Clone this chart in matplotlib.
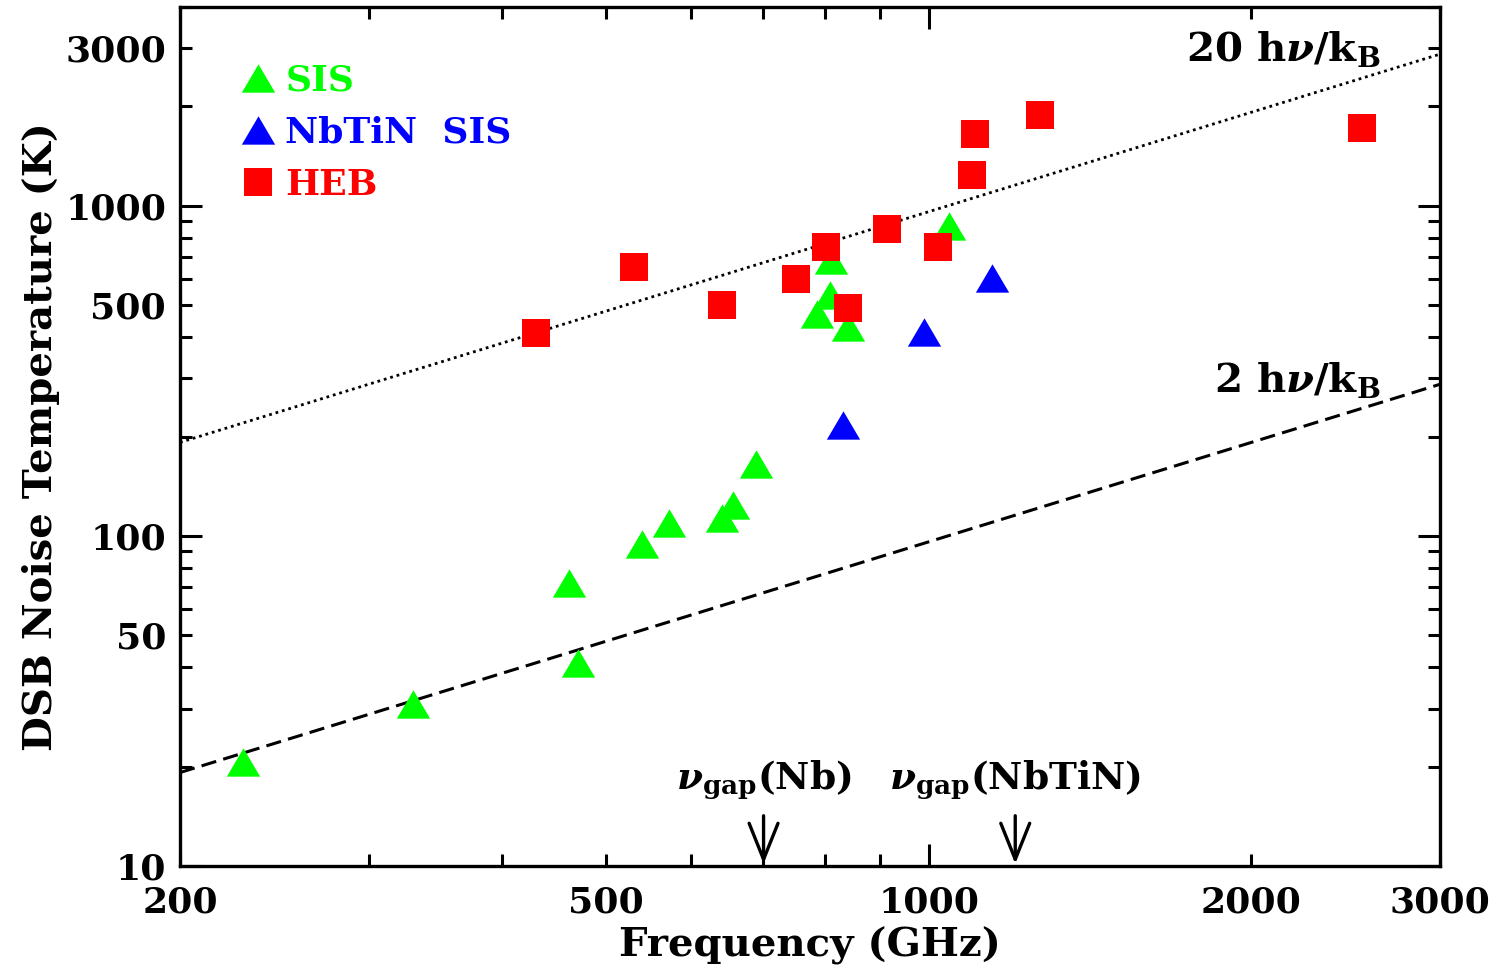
import matplotlib
matplotlib.use('Agg')
import numpy as np
import matplotlib.pyplot as plt
from matplotlib.lines import Line2D
from matplotlib.ticker import LogLocator, FuncFormatter

# ---- data (GHz, K) ----
sis_freq = [229, 330, 461, 470, 540, 572, 641, 656, 690, 786, 808, 810, 840, 1045]
sis_temp = [20.6, 30.9, 72, 41.2, 94.5, 109.5, 113, 124, 165, 470, 536, 686, 430, 869]

nbtin_freq = [831, 990, 1145]
nbtin_temp = [217, 415, 606]

heb_freq = [430, 531, 641, 751, 802, 840, 913, 1020, 1096, 1104, 1270, 2537]
heb_temp = [411, 654, 501, 601, 751, 490, 850, 751, 1237, 1655, 1887, 1720]

# quantum-limit reference lines: T = N h nu / k_B
H_OVER_K = 0.04799  # K per GHz
line_freq = np.array([200, 3000])
line_factors = [20, 2]

gap_freq = [701, 1204]
gap_labels = [r'$\mathbfit{\nu}_{gap}$(Nb)', r'$\mathbfit{\nu}_{gap}$(NbTiN)']

xtick_labels = [200, 500, 1000, 2000, 3000]
ytick_labels = [10, 50, 100, 500, 1000, 3000]

# ---- style ----
FS = 26
plt.rcParams.update({
    'font.family': 'DejaVu Serif',
    'font.weight': 'bold',
    'font.size': FS,
    'axes.labelweight': 'bold',
    'axes.labelsize': 29,
    'mathtext.fontset': 'dejavuserif',
    'mathtext.default': 'bf',
    'axes.linewidth': 2.4,
})

TRI = [(-1, -0.85), (1, -0.85), (0, 0.85)]
C_SIS, C_NBTIN, C_HEB = '#00ff00', '#0000ff', '#ff0000'

fig = plt.figure(figsize=(15.01, 9.71), dpi=100)
ax = fig.add_axes([0.1199, 0.1081, 0.8395, 0.8847])
ax.set_xscale('log')
ax.set_yscale('log')
ax.set_xlim(200, 3000)
ax.set_ylim(10, 4000)

# reference lines
ax.plot(line_freq, line_factors[0] * H_OVER_K * line_freq, color='black',
        lw=2.0, dashes=(1, 1.4))
ax.plot(line_freq, line_factors[1] * H_OVER_K * line_freq, color='black',
        lw=2.2, dashes=(5, 2.4))

ax.text(2640, 2745, r'20 h$\mathbfit{\nu}$/k$_{B}$', ha='right', va='baseline',
        fontsize=29)
ax.text(2640, 273, r'2 h$\mathbfit{\nu}$/k$_{B}$', ha='right', va='baseline',
        fontsize=29)

# data points
ax.plot(sis_freq, sis_temp, ls='none', marker=TRI, ms=24, mew=0, color=C_SIS)
ax.plot(nbtin_freq, nbtin_temp, ls='none', marker=TRI, ms=24, mew=0, color=C_NBTIN)
ax.plot(heb_freq, heb_temp, ls='none', marker='s', ms=20, mew=0, color=C_HEB)

# gap frequency arrows
for f, lab in zip(gap_freq, gap_labels):
    ax.annotate('', xy=(f, 10.15), xytext=(f, 14.2),
                arrowprops=dict(arrowstyle='->,head_length=1.0,head_width=0.4',
                                lw=2.4, color='black', shrinkA=0, shrinkB=0))
    ax.text(f, 18.3, lab, ha='center', va='center', fontsize=27)

# legend
handles = [
    Line2D([], [], ls='none', marker=TRI, ms=24, mew=0, color=C_SIS),
    Line2D([], [], ls='none', marker=TRI, ms=24, mew=0, color=C_NBTIN),
    Line2D([], [], ls='none', marker='s', ms=20, mew=0, color=C_HEB),
]
ax.legend(handles, ['SIS', 'NbTiN  SIS', 'HEB'], loc='upper left',
          bbox_to_anchor=(0.035, 0.955), frameon=False, handlelength=0.9,
          handletextpad=0.3, labelspacing=0.5, borderpad=0, fontsize=FS,
          labelcolor=[C_SIS, C_NBTIN, C_HEB])

# ticks
def lab_fmt(vals):
    return FuncFormatter(lambda v, p: f'{v:.0f}' if np.any(np.isclose(v, vals)) else '')

for axis, vals in ((ax.xaxis, xtick_labels), (ax.yaxis, ytick_labels)):
    axis.set_major_locator(LogLocator(base=10, numticks=10))
    axis.set_minor_locator(LogLocator(base=10, subs=np.arange(2, 10), numticks=10))
    axis.set_major_formatter(lab_fmt(vals))
    axis.set_minor_formatter(lab_fmt(vals))

ax.tick_params(which='both', direction='in', top=True, right=True, width=2.2,
               labelsize=FS)
ax.tick_params(axis='x', which='both', pad=14)
ax.tick_params(axis='y', which='both', pad=10)
ax.tick_params(which='major', length=16)
ax.tick_params(which='minor', length=8.5)

ax.set_xlabel('Frequency (GHz)', labelpad=5)
ax.set_ylabel('DSB Noise Temperature (K)', labelpad=4)

fig.savefig('out.png', dpi=100)
